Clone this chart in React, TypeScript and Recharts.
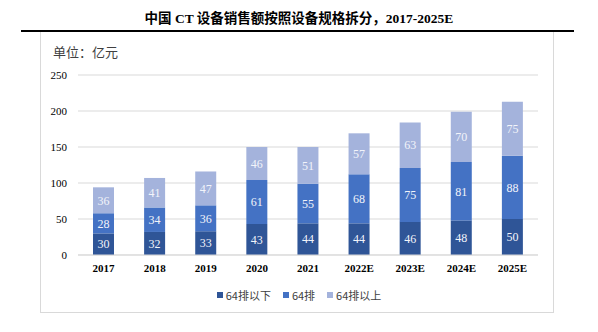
import { Bar, BarChart, CartesianGrid, LabelList, XAxis, YAxis } from "recharts"

// 中国CT设备销售额按规格拆分（亿元）
const years = ["2017", "2018", "2019", "2020", "2021", "2022E", "2023E", "2024E", "2025E"]
const below64 = [30, 32, 33, 43, 44, 44, 46, 48, 50]
const row64 = [28, 34, 36, 61, 55, 68, 75, 81, 88]
const above64 = [36, 41, 47, 46, 51, 57, 63, 70, 75]
const yTicks = [0, 50, 100, 150, 200, 250]

const SERIES = [
  { key: "below", name: "64排以下", color: "#2f5597" },
  { key: "mid", name: "64排", color: "#4472c4" },
  { key: "above", name: "64排以上", color: "#a4b3dc" },
] as const

const serif = "'Liberation Serif', 'Times New Roman', serif"
const cjk = "'Noto Sans CJK SC', sans-serif"

export default function App() {
  const data = years.map((year, i) => ({
    year,
    below: below64[i],
    mid: row64[i],
    above: above64[i],
  }))

  return (
    <div
      style={{
        position: "absolute",
        left: 0,
        top: 0,
        width: 598,
        height: 332,
        background: "#fff",
        overflow: "hidden",
      }}
    >
      <div
        style={{
          position: "absolute",
          top: 10,
          left: 0,
          width: 598,
          textAlign: "center",
          fontFamily: `${serif}, ${cjk}`,
          fontWeight: 700,
          fontSize: 13.5,
          color: "#000",
          lineHeight: "18px",
        }}
      >
        中国 CT 设备销售额按照设备规格拆分，2017-2025E
      </div>
      <div style={{ position: "absolute", top: 30, left: 21, width: 553, height: 2, background: "#000" }} />
      <div
        style={{
          position: "absolute",
          top: 32,
          left: 40,
          width: 512,
          height: 280,
          border: "1px solid #d9d9d9",
          borderTop: "none",
        }}
      />
      <div
        style={{
          position: "absolute",
          top: 43,
          left: 53,
          fontFamily: cjk,
          fontSize: 13,
          color: "#404040",
          lineHeight: "18px",
        }}
      >
        单位：亿元
      </div>

      <div style={{ position: "absolute", left: 0, top: 0 }}>
        <BarChart
          width={598}
          height={290}
          data={data}
          margin={{ top: 75, right: 60, bottom: 0, left: 18 }}
          barSize={21}
        >
          <CartesianGrid vertical={false} stroke="#d9d9d9" />
          <XAxis
            dataKey="year"
            axisLine={{ stroke: "#d9d9d9" }}
            tickLine={false}
            tickSize={0}
            tickMargin={9}
            height={35}
            tick={{ fill: "#000", fontFamily: serif, fontSize: 11, fontWeight: 700 }}
          />
          <YAxis
            width={60}
            domain={[0, 250]}
            ticks={yTicks}
            axisLine={false}
            tickLine={false}
            tickSize={0}
            tickMargin={11}
            tick={{ fill: "#000", fontFamily: serif, fontSize: 11 }}
          />
          {SERIES.map((s) => (
            <Bar key={s.key} dataKey={s.key} name={s.name} stackId="a" fill={s.color} isAnimationActive={false}>
              <LabelList
                dataKey={s.key}
                position="center"
                fill="#f2f4fa"
                style={{ fontFamily: serif, fontSize: 12 }}
              />
            </Bar>
          ))}
        </BarChart>
      </div>

      <div
        style={{
          position: "absolute",
          top: 287,
          left: 0,
          width: 598,
          display: "flex",
          justifyContent: "center",
          gap: 12,
          fontFamily: cjk,
          fontSize: 11,
          color: "#404040",
          lineHeight: "16px",
        }}
      >
        {SERIES.map((s) => (
          <div key={s.key} style={{ display: "flex", alignItems: "center", gap: 3 }}>
            <span style={{ width: 6, height: 6, background: s.color, display: "inline-block" }} />
            <span>{s.name}</span>
          </div>
        ))}
      </div>
    </div>
  )
}
